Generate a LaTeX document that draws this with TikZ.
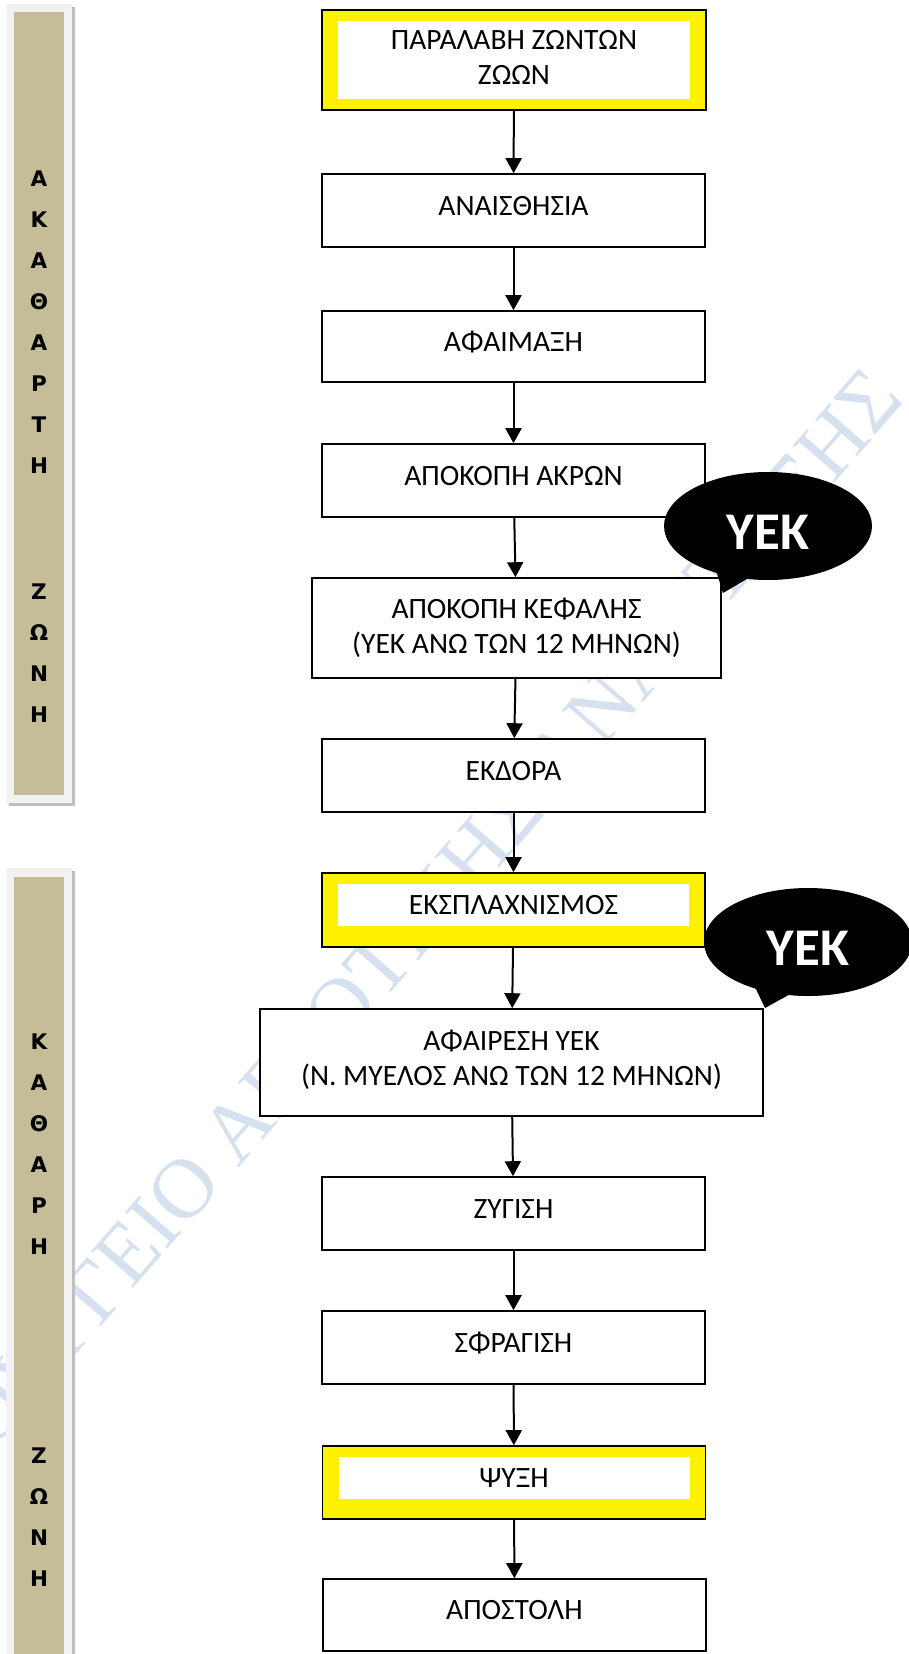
\documentclass[tikz,border=0pt]{standalone}
\usepackage{fontspec}
\setmainfont{Carlito}
\newfontfamily\barfont{DejaVu Sans Bold}
\newfontfamily\markfont{Liberation Serif}
\usetikzlibrary{arrows.meta,shapes.geometric}
\definecolor{tanbar}{HTML}{C4BD97}
\definecolor{framegrey}{HTML}{F2F2F2}
\definecolor{shadegrey}{HTML}{BFBFBF}
\definecolor{markblue}{HTML}{D6E1EF}
\tikzset{
  stepbox/.style={draw, line width=1.6pt, fill=white, minimum width=383pt, minimum height=73pt, inner sep=0pt, font=\fontsize{29.5}{35}\selectfont, align=center},
  oneline/.style={text height=19pt, text depth=10pt},
  hotbox/.style={stepbox, fill=yellow, path picture={\fill[white] ([shift={(16,11)}]path picture bounding box.north west) rectangle ([shift={(-16,-#1)}]path picture bounding box.south east);}},
  flow/.style={-{Triangle[width=16pt,length=15pt]}, line width=2pt},
  bubble/.style={ellipse, fill=black, text=white, minimum width=208pt, minimum height=108pt, inner sep=0pt, font=\bfseries\fontsize{53}{53}\selectfont, text height=47pt, text depth=0pt},
  barletter/.style={font=\barfont\fontsize{21.5}{21.5}\selectfont, inner sep=0pt}
}

\begin{document}
\begin{tikzpicture}[x=1pt, y=-1pt]
\useasboundingbox (0,0) rectangle (909,1654);
\begin{scope}
\clip (0,0) rectangle (909,1654);
\node[font=\markfont\fontsize{85}{85}\selectfont, text=markblue, rotate=49, anchor=base west, inner sep=0pt] (mark) at (-90,1546) {ΥΠΟΥΡΓΕΙΟ ΑΓΡΟΤΙΚΗΣ ΑΝΑΠΤΥΞΗΣ};
\end{scope}

\fill[shadegrey] (9,7) rectangle (75,806);
\fill[framegrey] (6,4) rectangle (72,803);
\fill[tanbar] (14,12) rectangle (64,795);
\fill[shadegrey] (9,871) rectangle (75,1654);
\fill[framegrey] (6,868) rectangle (72,1654);
\fill[tanbar] (14,877) rectangle (64,1654);
\foreach \l/\y [count=\i] in {Α/179, Κ/220, Α/261, Θ/302, Α/343, Ρ/384, Τ/425, Η/466, Ζ/592, Ω/633, Ν/674, Η/715}
  \node[barletter] (dirty\i) at (39,\y) {\l};
\foreach \l/\y [count=\i] in {Κ/1042, Α/1083, Θ/1124, Α/1165, Ρ/1206, Η/1247, Ζ/1456, Ω/1497, Ν/1538, Η/1579}
  \node[barletter] (clean\i) at (39,\y) {\l};

\node[hotbox=11, minimum width=384pt, minimum height=100pt] (recv) at (514,60) {ΠΑΡΑΛΑΒΗ ΖΩΝΤΩΝ\\ΖΩΩΝ\rule[-6pt]{0pt}{0pt}};
\node[stepbox, oneline] (anaes) at (513.5,210.5) {ΑΝΑΙΣΘΗΣΙΑ};
\node[stepbox, oneline, minimum height=71pt] (bleed) at (513.5,346.5) {ΑΦΑΙΜΑΞΗ};
\node[stepbox, oneline] (limbs) at (513.5,480.5) {ΑΠΟΚΟΠΗ ΑΚΡΩΝ};
\node[stepbox, minimum width=409pt, minimum height=100pt] (head) at (516.5,628) {ΑΠΟΚΟΠΗ ΚΕΦΑΛΗΣ\\(ΥΕΚ ΑΝΩ ΤΩΝ 12 ΜΗΝΩΝ)};
\node[stepbox, oneline] (skin) at (513.5,775.5) {ΕΚΔΟΡΑ};
\node[hotbox=21, oneline, minimum height=74pt] (gut) at (513.5,910) {ΕΚΣΠΛΑΧΝΙΣΜΟΣ};
\node[stepbox, minimum width=503pt, minimum height=107pt] (srm) at (511.5,1062.5) {ΑΦΑΙΡΕΣΗ ΥΕΚ\\(Ν. ΜΥΕΛΟΣ ΑΝΩ ΤΩΝ 12 ΜΗΝΩΝ)\rule[-9pt]{0pt}{0pt}};
\node[stepbox, oneline] (weigh) at (513.5,1213.5) {ΖΥΓΙΣΗ};
\node[stepbox, oneline] (stamp) at (513.5,1347.5) {ΣΦΡΑΓΙΣΗ};
\node[hotbox=20, oneline] (chill) at (514,1482.5) {ΨΥΞΗ};
\node[stepbox, oneline, minimum height=72pt] (ship) at (514.5,1615) {ΑΠΟΣΤΟΛΗ};

\foreach \a/\b in {recv/anaes, anaes/bleed, bleed/limbs, limbs/head, head/skin, skin/gut, gut/srm, srm/weigh, weigh/stamp, stamp/chill, chill/ship}
  \draw[flow] (\a) -- (\b);

\node[bubble] (yek1) at (768,526) {ΥΕΚ};
\fill (716,570) -- (723,593) -- (752,576) -- cycle;
\node[bubble] (yek2) at (808,942) {ΥΕΚ};
\fill (754,985) -- (765,1008) -- (794,992) -- cycle;
\end{tikzpicture}
\end{document}
